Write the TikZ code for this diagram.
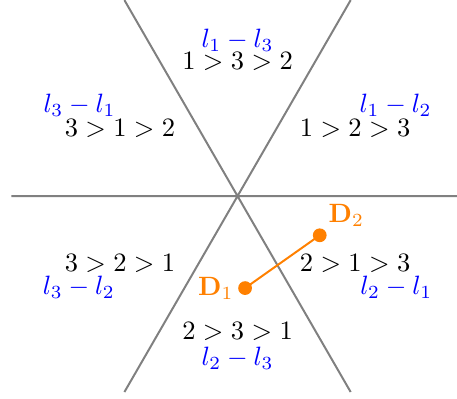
\documentclass[tikz,border=0pt]{standalone}
\definecolor{dorange}{RGB}{255,128,0}

\begin{document}
\begin{tikzpicture}[line width=0.75pt,every node/.style={inner sep=0pt}]
  \useasboundingbox (-3.15,-2.68) rectangle (2.91,2.60);
  \coordinate (O) at (0,0);
  \coordinate (A) at (0:3);
  \coordinate (B) at (60:3);
  \coordinate (C) at (120:3);
  \coordinate (D) at (180:3);
  \coordinate (E) at (240:3);
  \coordinate (F) at (300:3);
  \draw[gray] (D) -- (A) (C) -- (F) (B) -- (E);
  \node (r1) at (90:1.79) {$1>3>2$};
  \node (r2) at (30:1.8) {$1>2>3$};
  \node (r3) at (150:1.8) {$3>1>2$};
  \node (r4) at (210:1.8) {$3>2>1$};
  \node (r5) at (330:1.8) {$2>1>3$};
  \node (r6) at (270:1.8) {$2>3>1$};
  \node[blue] (s1) at (0,2.07) {$l_1-l_3$};
  \node[blue] (s2) at (30:2.42) {$l_1-l_2$};
  \node[blue] (s3) at (150:2.42) {$l_3-l_1$};
  \node[blue] (s4) at (210:2.43) {$l_3-l_2$};
  \node[blue] (s5) at (330:2.43) {$l_2-l_1$};
  \node[blue] (s6) at (0,-2.15) {$l_2-l_3$};
  \coordinate (D1) at (0.10,-1.22);
  \coordinate (D2) at (1.09,-0.52);
  \draw[dorange] (D1) -- (D2);
  \fill[dorange] (D1) circle (2.6pt) (D2) circle (2.6pt);
  \node[dorange,left=4pt] (d1) at (D1) {$\mathbf{D}_1$};
  \node[dorange,above right=3pt] (d2) at (D2) {$\mathbf{D}_2$};
\end{tikzpicture}
\end{document}
